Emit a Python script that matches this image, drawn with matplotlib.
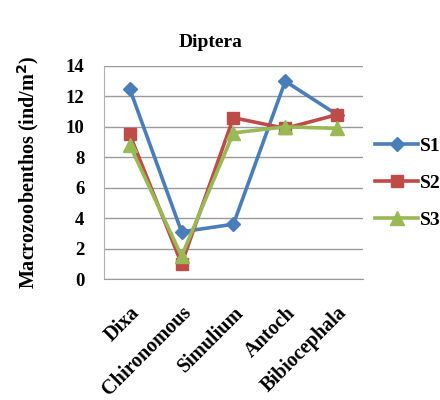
import matplotlib
matplotlib.use("Agg")
import matplotlib.pyplot as plt

taxa = ["Dixa", "Chironomous", "Simulium", "Antoch", "Bibiocephala"]
s1 = [12.5, 3.1, 3.6, 13.0, 10.8]
s2 = [9.5, 1.0, 10.6, 9.9, 10.8]
s3 = [8.8, 1.5, 9.6, 10.0, 9.9]
yticks = [0, 2, 4, 6, 8, 10, 12, 14]

plt.rcParams['font.family'] = ['Liberation Serif', 'DejaVu Serif']
plt.rcParams['font.weight'] = 'bold'

fig = plt.figure(figsize=(4.4, 4.0), dpi=100)
ax = fig.add_axes([0.236, 0.3025, 0.589, 0.5325])

x = range(len(taxa))
ax.plot(x, s1, color='#4A7EBB', lw=2.6, marker='D', ms=7.5, label='S1')
ax.plot(x, s2, color='#BE4B48', lw=2.6, marker='s', ms=9, label='S2')
ax.plot(x, s3, color='#98B954', lw=2.6, marker='^', ms=9.5, label='S3')

ax.set_xlim(-0.5, len(taxa) - 0.5)
ax.set_ylim(0, 14)
ax.set_yticks(yticks)
ax.set_xticks(list(x))
ax.set_xticklabels(taxa, rotation=45, ha='right', rotation_mode='anchor')
ax.tick_params(axis='y', length=0, labelsize=13.5, pad=14)
ax.tick_params(axis='x', length=0, labelsize=14.5, pad=17)
for lab in ax.get_xticklabels() + ax.get_yticklabels():
    lab.set_fontweight('bold')

ax.yaxis.grid(True, color='#9a9a9a', lw=1)
ax.set_axisbelow(True)
for side in ['top', 'right']:
    ax.spines[side].set_visible(False)
ax.spines['left'].set_color('#b0b0b0')
ax.spines['bottom'].set_color('#9a9a9a')

ax.set_ylabel('Macrozoobenthos (ind/m$^\\mathbf{2}$)', fontsize=14.5, fontweight='bold', labelpad=18)
fig.text(0.478, 0.893, 'Diptera', ha='center', va='center', fontsize=14, fontweight='bold')

fig.legend(loc='center left', bbox_to_anchor=(0.835, 0.543), frameon=False,
           prop={'size': 14, 'weight': 'bold'}, handlelength=2.2, handletextpad=0.1,
           labelspacing=1.0, borderaxespad=0)

fig.savefig('out.png', dpi=100)
